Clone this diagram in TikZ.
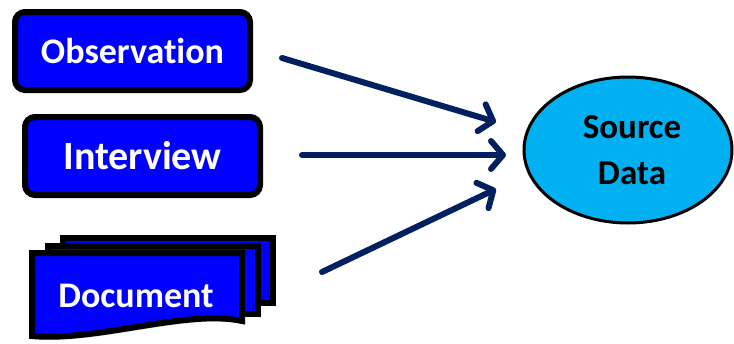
\documentclass[tikz,border=0pt]{standalone}
\usepackage{fontspec}
\setmainfont[Ligatures=NoCommon]{Carlito}
\usetikzlibrary{arrows.meta,shapes.geometric,shadows}
\definecolor{boxblue}{HTML}{0000FF}
\definecolor{srccyan}{HTML}{00B0F0}
\definecolor{arrnavy}{HTML}{002060}
\tikzset{
  srcbox/.style={draw=black, line width=6pt, fill=boxblue, rounded corners=10pt,
    text=white, font=\fontsize{36}{40}\selectfont\bfseries,
    drop shadow={shadow xshift=1.5pt, shadow yshift=-2.5pt, fill=black!35, opacity=0.5}},
  docpage/.style={draw=black, line width=6pt, fill=boxblue, line join=miter},
  flowarrow/.style={draw=arrnavy, line width=6pt, line cap=round,
    -{Straight Barb[length=12pt, width=28pt, line cap=round, line join=round]}}
}
\begin{document}
\begin{tikzpicture}[x=1pt,y=-1pt]
\useasboundingbox (0,0) rectangle (734,343);
% Observation
\node[srcbox, minimum width=235pt, minimum height=78pt] (obs) at (132.5,51) {Observation};
% Interview
\node[srcbox, font=\fontsize{40}{44}\selectfont\bfseries, minimum width=235pt, minimum height=78pt] (int) at (142.5,156) {Interview};
% Document stack
\fill[black!35, opacity=0.5] (66,241) rectangle (276,306);
\draw[docpage] (63,238) rectangle (273,303);
\draw[docpage] (48,246) rectangle (258,314);
\fill[black!35, opacity=0.5] (35,256) -- (245,256) -- (245,324) .. controls (190,312) and (100,345) .. (35,339) -- cycle;
\draw[docpage] (32,253) -- (242,253) -- (242,321) .. controls (187,309) and (97,342) .. (32,336) -- cycle;
\node[text=white, font=\fontsize{36}{40}\selectfont\bfseries] (doc) at (136,296) {Document};
\coordinate (docR) at (322,272);
% Source data
\node[ellipse, draw=black, line width=3pt, fill=srccyan, minimum width=208pt, minimum height=146pt,
  align=center, font=\fontsize{35}{46}\selectfont\bfseries, inner sep=0pt] (src) at (628,150) {\hspace*{8pt}Source\\\hspace*{8pt}Data};
% Arrows
\coordinate (a1s) at (282,58);
\coordinate (a1e) at (496,122);
\coordinate (a2s) at (302,155);
\coordinate (a2e) at (506,155);
\coordinate (a3e) at (496,189);
\draw[flowarrow] (a1s) -- (a1e);
\draw[flowarrow] (a2s) -- (a2e);
\draw[flowarrow] (docR) -- (a3e);
\end{tikzpicture}
\end{document}
